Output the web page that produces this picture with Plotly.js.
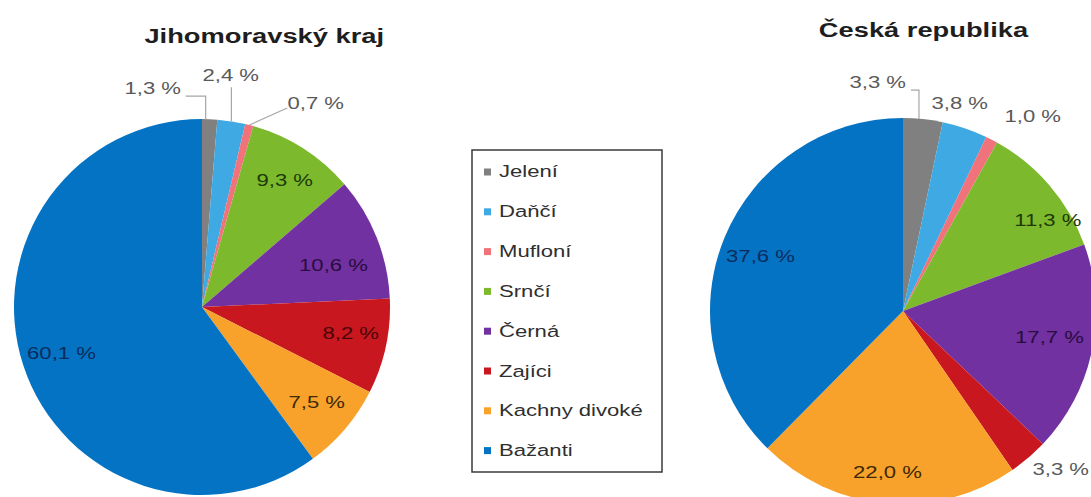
<!DOCTYPE html>
<html>
<head>
<meta charset="utf-8">
<script src="https://cdn.plot.ly/plotly-3.0.1.min.js"></script>
<style>
html,body{margin:0;padding:0;background:#fff;overflow:hidden;}
#chart{width:1100px;height:520px;}
g.annotation text{transform:scaleX(1.3);transform-box:fill-box;transform-origin:center;}
</style>
<style id="legstyle"></style>
</head>
<body>
<div id="chart"></div>
<script>
// ---- Data ----
const categories = ["Jelení", "Daňčí", "Mufloní", "Srnčí", "Černá", "Zajíci", "Kachny divoké", "Bažanti"];
const jmkValues = [1.3, 2.4, 0.7, 9.3, 10.6, 8.2, 7.5, 60.1];
const crValues = [3.3, 3.8, 1.0, 11.3, 17.7, 3.3, 22.0, 37.6];
const jmkTitle = "Jihomoravský kraj";
const crTitle = "Česká republika";

// ---- Styles ----
const colors = ["#808080", "#3ea9e2", "#f0727b", "#7cb92c", "#7131a1", "#c8171f", "#f8a22b", "#0473c3"];
const darkText = ["#333333", "#0d3a55", "#5a1a1e", "#1d3a06", "#2a0c40", "#4a0507", "#3e2805", "#0a2c5c"];
const W = 1100, H = 520;
const FONT = "Liberation Sans, Arial, sans-serif";
const LABEL_K = 0.8;   // radial position of inside labels (fraction of radius)

// pie geometry (px) and per-slice label styling: [placement, dx, dy, leader]
const pies = [
  {values: jmkValues, cx: 202, cy: 307, r: 188, title: jmkTitle, titleX: 264, titleY: 36,
   labelStyle: [["out", -57, -31, "elbow"], ["out", -1, -46, "elbow"], ["out", 66, -22, "line"],
                ["in", 2, 0], ["in", -8, 14], ["in", 1, -5], ["in", 0, -2], ["in", 2, 0]]},
  {values: crValues, cx: 903, cy: 311, r: 193, title: crTitle, titleX: 923, titleY: 29,
   labelStyle: [["out", -45, -37, "elbow"], ["out", -5, -25, "none"], ["out", 41, -23, "none"],
                ["in", 28, 10], ["in", -5, -5], ["out", 32, 12, "none"], ["in", -2, 8], ["in", 0, 4]]}
];

function fmt(v){ return v.toFixed(1).replace(".", ",") + " %"; }
const px = x => x / W;
const py = y => 1 - y / H;

const traces = [];
const annotations = [];
const shapes = [];

pies.forEach(p => {
  traces.push({
    type: "pie",
    values: p.values,
    labels: categories,
    text: p.values.map(fmt),
    textinfo: "none",
    hoverinfo: "label+text",
    sort: false,
    direction: "clockwise",
    rotation: 0,
    marker: {colors: colors, line: {width: 0}},
    showlegend: false,
    domain: {x: [px(p.cx - p.r), px(p.cx + p.r)], y: [py(p.cy + p.r), py(p.cy - p.r)]}
  });
  annotations.push({text: "<b>" + p.title + "</b>", x: px(p.titleX), y: py(p.titleY),
    xref: "paper", yref: "paper", showarrow: false, xanchor: "center", yanchor: "middle",
    font: {family: FONT, size: 21, color: "#1e1e1e"}});

  const total = p.values.reduce((a, b) => a + b, 0);
  let cum = 0;
  p.values.forEach((v, i) => {
    const mid = (cum + v / 2) / total;
    cum += v;
    const th = 2 * Math.PI * mid;
    const s = p.labelStyle[i];
    const inside = s[0] === "in";
    const k = inside ? LABEL_K : 1.0;
    const ax = p.cx + k * p.r * Math.sin(th);
    const ay = p.cy - k * p.r * Math.cos(th);
    const lx = ax + s[1], ly = ay + s[2];
    annotations.push({text: fmt(v), x: px(lx), y: py(ly), xref: "paper", yref: "paper",
      showarrow: false, xanchor: "center", yanchor: "middle",
      font: {family: FONT, size: 17, color: inside ? darkText[i] : "#595959"}});
    if (!inside && s[3] !== "none") {
      let path;
      if (s[3] === "elbow") {
        if (Math.abs(s[1]) < 6) {
          path = `M ${px(ax)} ${py(ly + 12)} L ${px(ax)} ${py(ay)}`;
        } else {
          const ex = lx + (s[1] < 0 ? 33 : -33);
          path = `M ${px(ex)} ${py(ly + 8)} L ${px(ax - 4)} ${py(ly + 8)} L ${px(ax - 4)} ${py(ay)}`;
        }
      } else {
        const ex = lx + (s[1] < 0 ? 30 : -28);
        path = `M ${px(ex)} ${py(ly + 5)} L ${px(ax)} ${py(ay)}`;
      }
      shapes.push({type: "path", xref: "paper", yref: "paper", path: path,
        line: {color: "#a6a6a6", width: 1.2}});
    }
  });
});

// ---- Manual legend ----
shapes.push({type: "rect", xref: "paper", yref: "paper",
  x0: px(472), x1: px(662), y0: py(472), y1: py(150),
  line: {color: "#3a3a3a", width: 1.5}, fillcolor: "rgba(0,0,0,0)"});
const legTop = 172, legStep = 39.8;
const legRules = [];
categories.forEach((c, i) => {
  const y = legTop + i * legStep;
  shapes.push({type: "rect", xref: "paper", yref: "paper",
    x0: px(484), x1: px(491), y0: py(y + 3.5), y1: py(y - 3.5),
    line: {width: 0}, fillcolor: colors[i]});
  legRules.push(`g.annotation[data-index="${annotations.length}"] text{transform-origin:left center;}`);
  annotations.push({text: c, x: px(497), y: py(y), xref: "paper", yref: "paper",
    showarrow: false, xanchor: "left", yanchor: "middle",
    font: {family: FONT, size: 17, color: "#2f2f2f"}});
});
document.getElementById("legstyle").textContent = legRules.join("\n");

const layout = {
  width: W, height: H,
  margin: {l: 0, r: 0, t: 0, b: 0},
  paper_bgcolor: "#ffffff",
  showlegend: false,
  annotations: annotations,
  shapes: shapes
};

Plotly.newPlot("chart", traces, layout, {displayModeBar: false, staticPlot: true});
</script>
</body>
</html>
